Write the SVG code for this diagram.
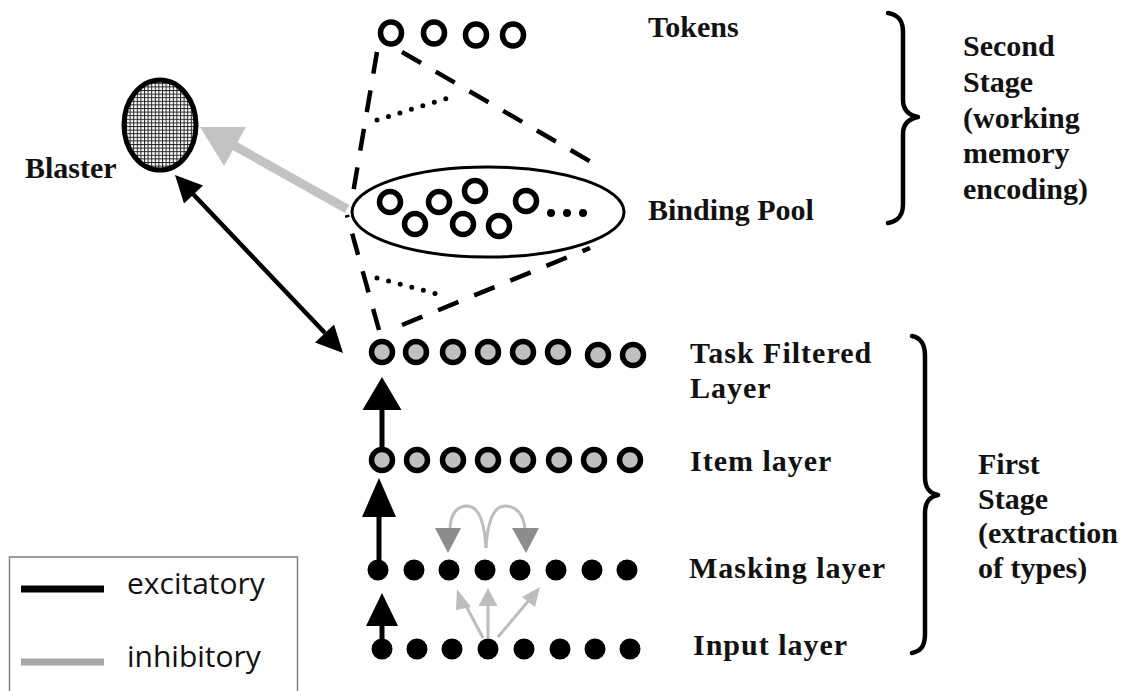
<svg xmlns="http://www.w3.org/2000/svg" width="1139" height="691" viewBox="0 0 1139 691">
  <defs>
    <pattern id="mesh" width="3.6" height="3.6" patternUnits="userSpaceOnUse">
      <rect width="3.6" height="3.6" fill="#ffffff"/>
      <rect x="0" y="0" width="3.6" height="1" fill="#222222"/>
      <rect x="0" y="0" width="1" height="3.6" fill="#222222"/>
    </pattern>
  </defs>
  <style>
    .lbl { font-family: "Liberation Serif", "Times New Roman", serif; font-weight: bold; font-size: 30px; fill: #111111; }
    .layer { letter-spacing: 1px; }
    .leg { font-family: "Open Sans", "Noto Sans", sans-serif; font-size: 30px; fill: #111111; }
    .tok { fill: #ffffff; stroke: #000000; stroke-width: 5.5; }
    .grey { fill: #c0c0c0; stroke: #000000; stroke-width: 5.5; }
    .blk { fill: #000000; }
    .dash { fill: none; stroke: #000000; stroke-width: 4.5; stroke-dasharray: 22 17; }
    .dots { fill: none; stroke: #000000; stroke-width: 5; stroke-linecap: round; stroke-dasharray: 0 12; }
    .brace { fill: none; stroke: #000000; stroke-width: 4.5; stroke-linecap: round; stroke-linejoin: round; }
    .exc { stroke: #000000; stroke-width: 4.5; fill: none; }
    .inh { stroke: #bdbdbd; stroke-width: 3; fill: none; }
  </style>

  <!-- cones linking the layers -->
  <g id="cones">
    <path class="dash" d="M377,52 L351,205"/>
    <path class="dash" d="M402,52 L598,166"/>
    <path class="dots" d="M377,120 L448,98"/>
    <path class="dash" d="M379,330 L347,215"/>
    <path class="dash" d="M402,325 L590,248"/>
    <path class="dots" d="M377,278 L437,294"/>
  </g>

  <!-- tokens -->
  <g id="tokens">
    <ellipse class="tok" cx="391" cy="33" rx="10.5" ry="11"/>
    <ellipse class="tok" cx="434" cy="33" rx="10.5" ry="11"/>
    <ellipse class="tok" cx="476" cy="35" rx="10.5" ry="11"/>
    <ellipse class="tok" cx="513" cy="35" rx="10.5" ry="11"/>
    <text class="lbl" x="648" y="37">Tokens</text>
  </g>

  <!-- binding pool -->
  <g id="binding-pool">
    <ellipse cx="488" cy="212" rx="136" ry="45" fill="none" stroke="#000000" stroke-width="3"/>
    <circle class="tok" cx="390" cy="202" r="10.5"/>
    <circle class="tok" cx="415" cy="224" r="10.5"/>
    <circle class="tok" cx="439" cy="202" r="10.5"/>
    <circle class="tok" cx="475" cy="191" r="10.5"/>
    <circle class="tok" cx="463" cy="224" r="10.5"/>
    <circle class="tok" cx="499" cy="226" r="10.5"/>
    <circle class="tok" cx="526" cy="201" r="10.5"/>
    <circle class="blk" cx="551" cy="213" r="4"/>
    <circle class="blk" cx="567" cy="213" r="4"/>
    <circle class="blk" cx="583" cy="213" r="4"/>
    <text class="lbl" x="648" y="220">Binding Pool</text>
  </g>

  <!-- blaster -->
  <g id="blaster">
    <ellipse cx="160" cy="125" rx="36" ry="45" fill="url(#mesh)" stroke="#000000" stroke-width="5"/>
    <text class="lbl" x="25" y="178">Blaster</text>
  </g>

  <!-- task filtered layer -->
  <g id="task-filtered-layer">
    <circle class="grey" cx="382" cy="352" r="10.5"/>
    <circle class="grey" cx="416" cy="352" r="10.5"/>
    <circle class="grey" cx="453" cy="352" r="10.5"/>
    <circle class="grey" cx="488" cy="352" r="10.5"/>
    <circle class="grey" cx="523" cy="352" r="10.5"/>
    <circle class="grey" cx="558" cy="352" r="10.5"/>
    <circle class="grey" cx="598" cy="355" r="10.5"/>
    <circle class="grey" cx="633" cy="355" r="10.5"/>
    <text class="lbl layer" x="690" y="363">Task Filtered</text>
    <text class="lbl layer" x="690" y="398">Layer</text>
  </g>

  <!-- item layer -->
  <g id="item-layer">
    <circle class="grey" cx="382" cy="460" r="10.5"/>
    <circle class="grey" cx="417" cy="460" r="10.5"/>
    <circle class="grey" cx="453" cy="460" r="10.5"/>
    <circle class="grey" cx="488" cy="460" r="10.5"/>
    <circle class="grey" cx="523" cy="460" r="10.5"/>
    <circle class="grey" cx="559" cy="460" r="10.5"/>
    <circle class="grey" cx="594" cy="460" r="10.5"/>
    <circle class="grey" cx="630" cy="460" r="10.5"/>
    <text class="lbl layer" x="690" y="471">Item layer</text>
  </g>

  <!-- masking layer -->
  <g id="masking-layer">
    <circle class="blk" cx="378" cy="570" r="10.5"/>
    <circle class="blk" cx="414" cy="570" r="10.5"/>
    <circle class="blk" cx="449" cy="570" r="10.5"/>
    <circle class="blk" cx="485" cy="570" r="10.5"/>
    <circle class="blk" cx="520" cy="570" r="10.5"/>
    <circle class="blk" cx="556" cy="570" r="10.5"/>
    <circle class="blk" cx="592" cy="570" r="10.5"/>
    <circle class="blk" cx="627" cy="570" r="10.5"/>
    <text class="lbl layer" x="689" y="578">Masking layer</text>
  </g>

  <!-- input layer -->
  <g id="input-layer">
    <circle class="blk" cx="382" cy="649" r="10.5"/>
    <circle class="blk" cx="417" cy="649" r="10.5"/>
    <circle class="blk" cx="452" cy="649" r="10.5"/>
    <circle class="blk" cx="488" cy="649" r="10.5"/>
    <circle class="blk" cx="524" cy="649" r="10.5"/>
    <circle class="blk" cx="560" cy="649" r="10.5"/>
    <circle class="blk" cx="595" cy="649" r="10.5"/>
    <circle class="blk" cx="630" cy="649" r="10.5"/>
    <text class="lbl layer" x="693" y="655">Input layer</text>
  </g>

  <!-- stage braces and captions -->
  <g id="second-stage">
    <path class="brace" d="M888,13 C899,15 903,21 903,32 L903,100 C903,110 908,115 918,117 C908,119 903,124 903,134 L903,204 C903,215 899,221 888,223"/>
    <text class="lbl">
      <tspan x="963" y="56">Second</tspan>
      <tspan x="963" y="92">Stage</tspan>
      <tspan x="963" y="128">(working</tspan>
      <tspan x="963" y="163">memory</tspan>
      <tspan x="963" y="199">encoding)</tspan>
    </text>
  </g>
  <g id="first-stage">
    <path class="brace" d="M912,336 C921,338 925,344 925,356 L925,477 C925,488 929,493 938,495 C929,497 925,502 925,513 L925,634 C925,646 921,651 912,653"/>
    <text class="lbl">
      <tspan x="978" y="474">First</tspan>
      <tspan x="978" y="509">Stage</tspan>
      <tspan x="978" y="543">(extraction</tspan>
      <tspan x="978" y="578">of types)</tspan>
    </text>
  </g>

  <!-- connectors -->
  <g id="connectors">
    <!-- binding pool inhibits blaster -->
    <line x1="347" y1="209" x2="233" y2="145" stroke="#c3c3c3" stroke-width="9"/>
    <polygon points="200,127 246,127 224,166" fill="#c3c3c3"/>
    <!-- blaster and task filtered layer -->
    <line class="exc" x1="193" y1="194" x2="325" y2="333"/>
    <polygon class="blk" points="175,175 203,185.5 184,203.5"/>
    <polygon class="blk" points="343,353 315,342.5 334,324.5"/>
    <!-- feed-forward between layers -->
    <line x1="382" y1="447" x2="382" y2="405" stroke="#000000" stroke-width="5"/>
    <polygon class="blk" points="382,377 401.5,410 362.5,410"/>
    <line x1="379" y1="560" x2="379" y2="512" stroke="#000000" stroke-width="5"/>
    <polygon class="blk" points="379,478 396,517 362,517"/>
    <line x1="382" y1="640" x2="382" y2="622" stroke="#000000" stroke-width="5"/>
    <polygon class="blk" points="382,593 398,626 366,626"/>
    <!-- input to masking (inhibitory) -->
    <line class="inh" x1="483" y1="638" x2="465" y2="604"/>
    <polygon points="457,589 471,607 456,610" fill="#bdbdbd"/>
    <line class="inh" x1="488" y1="638" x2="488" y2="600"/>
    <polygon points="488,588 497.5,606 478.5,606" fill="#bdbdbd"/>
    <line class="inh" x1="498" y1="637" x2="530" y2="599"/>
    <polygon points="540,587 535,607 522,597" fill="#bdbdbd"/>
    <!-- lateral masking -->
    <path class="inh" stroke="#b4b4b4" d="M486,548 C484,515 476,506 467,506 C457,506 450,514 450,530"/>
    <polygon points="448,553 461,528 435,528" fill="#8c8c8c"/>
    <path class="inh" stroke="#b4b4b4" d="M486,548 C488,515 496,506 505,506 C516,506 524,514 525,530"/>
    <polygon points="526,553 539,528 512,528" fill="#8c8c8c"/>
  </g>

  <!-- key -->
  <g id="legend">
    <rect x="9.5" y="557" width="288" height="150" fill="none" stroke="#7f7f7f" stroke-width="1.5"/>
    <line x1="21" y1="589" x2="104" y2="589" stroke="#000000" stroke-width="7"/>
    <text class="leg" x="127" y="594">excitatory</text>
    <line x1="21" y1="662" x2="104" y2="662" stroke="#a6a6a6" stroke-width="7"/>
    <text class="leg" x="127" y="667">inhibitory</text>
  </g>
</svg>
